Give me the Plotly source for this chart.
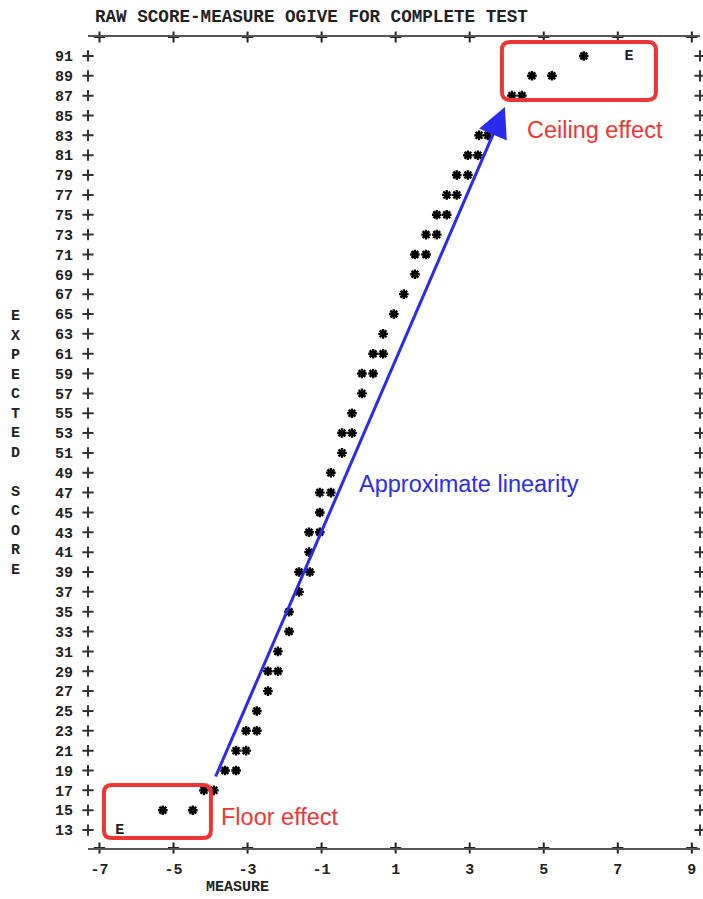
import plotly.graph_objects as go

# Ogive points (raw score row, measure)
ogive_score = [91,
               89, 89,
               87, 87,
               83, 83,
               81, 81,
               79, 79,
               77, 77,
               75, 75,
               73, 73,
               71, 71,
               69,
               67,
               65,
               63,
               61, 61,
               59, 59,
               57,
               55,
               53, 53,
               51,
               49,
               47, 47,
               45,
               43, 43,
               41,
               39, 39,
               37,
               35,
               33,
               31,
               29, 29,
               27,
               25,
               23, 23,
               21, 21,
               19, 19,
               17, 17,
               15, 15]
ogive_measure = [6.08,
                 4.68, 5.22,
                 4.14, 4.41,
                 3.25, 3.49,
                 2.95, 3.22,
                 2.65, 2.95,
                 2.38, 2.65,
                 2.11, 2.38,
                 1.82, 2.11,
                 1.52, 1.82,
                 1.52,
                 1.22,
                 0.95,
                 0.66,
                 0.39, 0.66,
                 0.09, 0.39,
                 0.09,
                 -0.18,
                 -0.45, -0.18,
                 -0.45,
                 -0.75,
                 -1.05, -0.75,
                 -1.05,
                 -1.34, -1.05,
                 -1.34,
                 -1.61, -1.32,
                 -1.61,
                 -1.88,
                 -1.88,
                 -2.18,
                 -2.45, -2.18,
                 -2.45,
                 -2.75,
                 -3.04, -2.75,
                 -3.31, -3.04,
                 -3.61, -3.31,
                 -4.18, -3.91,
                 -5.29, -4.48]

# extreme scores (E)
extreme_score = [91, 13]
extreme_measure = [7.30, -6.45]

score_ticks = [13, 15, 17, 19, 21, 23, 25, 27, 29, 31, 33, 35, 37, 39, 41, 43, 45, 47, 49, 51,
               53, 55, 57, 59, 61, 63, 65, 67, 69, 71, 73, 75, 77, 79, 81, 83, 85, 87, 89, 91]
measure_ticks = [-7, -5, -3, -1, 1, 3, 5, 7, 9]
measure_labels = ["-7", "-5", "-3", "-1", "1", "3", "5", "7", "9"]

x_range = [-7.31, 9.22]
y_range = [11.19, 92.91]

mono = "Liberation Mono"
red = "#ee3535"
blue = "#2b2bf0"


def rounded_box(x0, x1, y0, y1, rx=0.22, ry=0.8):
    return (f"M {x0+rx},{y0} L {x1-rx},{y0} Q {x1},{y0} {x1},{y0+ry} "
            f"L {x1},{y1-ry} Q {x1},{y1} {x1-rx},{y1} L {x0+rx},{y1} "
            f"Q {x0},{y1} {x0},{y1-ry} L {x0},{y0+ry} Q {x0},{y0} {x0+rx},{y0} Z")


fig = go.Figure()

# "+" marks down both sides
for xe in x_range:
    fig.add_trace(go.Scatter(x=[xe] * len(score_ticks), y=score_ticks, mode="markers",
                             marker=dict(symbol="cross-thin", size=8, color="#333",
                                         line=dict(width=2, color="#333")),
                             cliponaxis=False, hoverinfo="skip"))
# "+" marks on top/bottom axes
for ye in y_range:
    fig.add_trace(go.Scatter(x=measure_ticks, y=[ye] * len(measure_ticks), mode="markers",
                             marker=dict(symbol="cross-thin", size=8, color="#222",
                                         line=dict(width=2, color="#222")),
                             cliponaxis=False, hoverinfo="skip"))

fig.add_trace(go.Scatter(x=ogive_measure, y=ogive_score, mode="markers",
                         marker=dict(symbol="asterisk-open", size=8, color="black",
                                     line=dict(width=2.4, color="black")),
                         hoverinfo="skip"))
fig.add_trace(go.Scatter(x=extreme_measure, y=extreme_score, mode="text", text=["E", "E"],
                         textfont=dict(family=mono, size=15, color="#222", weight="bold"),
                         hoverinfo="skip"))

fig.add_shape(type="path", path=rounded_box(3.87, 8.03, 86.57, 92.41), line=dict(color=red, width=4))
fig.add_shape(type="path", path=rounded_box(-6.88, -3.99, 12.19, 17.53), line=dict(color=red, width=4))

fig.add_annotation(x=3.95, y=85.86, ax=-3.88, ay=18.24, axref="x", ayref="y", xref="x", yref="y",
                   showarrow=True, arrowhead=2, arrowsize=2, arrowwidth=3, arrowcolor=blue, text="")

sans = "Liberation Sans"
fig.add_annotation(x=6.38, y=83.54, text="Ceiling effect", showarrow=False,
                   font=dict(family=sans, size=23.5, color=red))
fig.add_annotation(x=-2.13, y=14.31, text="Floor effect", showarrow=False,
                   font=dict(family=sans, size=23.5, color=red))
fig.add_annotation(x=2.98, y=47.87, text="Approximate linearity", showarrow=False,
                   font=dict(family=sans, size=23.5, color=blue))

fig.add_annotation(x=-3.26, y=-0.049, xref="x", yref="paper", yanchor="middle", xanchor="center",
                   text="MEASURE", showarrow=False,
                   font=dict(family=mono, size=15, color="#222", weight="bold"))
fig.add_annotation(x=-0.119, y=52, xref="paper", yref="y", xanchor="center", yanchor="middle",
                   text="<br>".join(list("EXPECTED SCORE")),
                   showarrow=False, font=dict(family=mono, size=15, color="#222", weight="bold"))

fig.update_layout(
    width=703, height=899,
    margin=dict(l=88, r=3, t=37, b=51, autoexpand=False),
    plot_bgcolor="white", paper_bgcolor="white",
    showlegend=False,
    title=dict(text="RAW SCORE-MEASURE OGIVE FOR COMPLETE TEST", xref="container", x=95 / 703,
               xanchor="left", y=1 - 16 / 899, yanchor="middle",
               font=dict(family=mono, size=17.6, color="#222", weight="bold")),
)
fig.update_xaxes(range=x_range, showgrid=False, zeroline=False, showline=True, linecolor="#555",
                 linewidth=2, mirror=True, tickmode="array", tickvals=measure_ticks, ticktext=measure_labels,
                 ticks="", ticklabelstandoff=6, automargin=False,
                 tickfont=dict(family=mono, size=15, color="#222", weight="bold"))
fig.update_yaxes(range=y_range, showgrid=False, zeroline=False, showline=False, tickmode="array",
                 tickvals=score_ticks, ticks="", ticklabelstandoff=14, automargin=False,
                 tickfont=dict(family=mono, size=15, color="#222", weight="bold"))

# drop the default 8px body margin so the figure fills the window
fig.write_html("out.html", config={"displayModeBar": False},
               post_script="document.body.style.margin='0';")
